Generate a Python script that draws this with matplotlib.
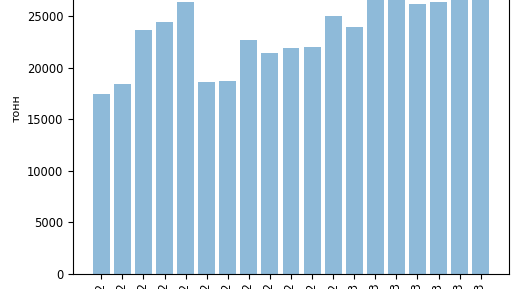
import matplotlib
matplotlib.use("Agg")
import matplotlib.pyplot as plt

months = ["янв", "фев", "мар", "апр", "май", "июн", "июл", "авг", "сен", "окт", "ноя", "дек"]
labels = [f"{m} 2022" for m in months] + [f"{m} 2023" for m in months[:7]]
values = [17430, 18400, 23670, 24410, 26320, 18590, 18690, 22670, 21400, 21890,
          21990, 25020, 23930, 28000, 28500, 26130, 26320, 27500, 28000]

fig = plt.figure(figsize=(5.16, 2.89), dpi=100)
ax = fig.add_axes([0.1415, 15.3 / 289, 0.8449, 330.4 / 289])
ax.bar(range(len(values)), values, color="tab:blue", alpha=0.5)
ax.set_ylim(0, 32050)
ax.set_xticks(range(len(values)))
ax.set_xticklabels(labels, rotation=90, fontsize=8.3)
ax.tick_params(axis="y", labelsize=8.3)
ax.set_ylabel("тонн", fontsize=8)
fig.savefig("out.png", dpi=100)
